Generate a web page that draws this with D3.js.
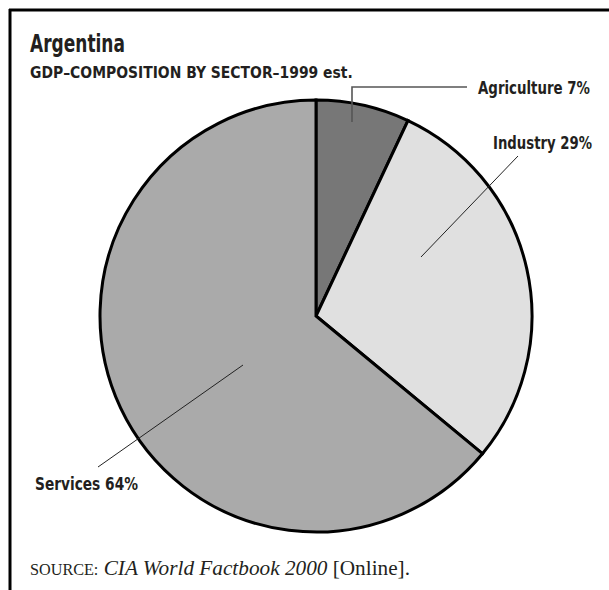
<!DOCTYPE html>
<html>
<head>
<meta charset="utf-8">
<script src="https://cdn.jsdelivr.net/npm/d3@7"></script>
<style>
  html, body { margin: 0; padding: 0; background: #fff; }
  svg { display: block; }
</style>
</head>
<body>
<svg id="chart" width="609" height="590"></svg>
<script>
// GDP composition by sector, Argentina, 1999 est.
const sectors = ["Agriculture", "Industry", "Services"];
const shares = [7, 29, 64];
const sliceColors = ["#777777", "#e0e0e0", "#aaaaaa"];

const title = "Argentina";
const subtitle = "GDP\u2013COMPOSITION BY SECTOR\u20131999 est.";

const svg = d3.select("#chart");
const ink = "#231f20";
const sansBold = "'DejaVu Sans Condensed', 'DejaVu Sans', Arial, sans-serif";
const serif = "'Liberation Serif', 'Times New Roman', serif";

// draw a text squeezed horizontally to a set width, anchored at (x, y)
function squeezed(x, y, width, anchor, size, family, str) {
  const t = svg.append("text")
    .attr("font-family", family).attr("font-weight", "bold").attr("font-size", size)
    .attr("font-stretch", "condensed").attr("fill", ink).text(str);
  const natural = t.node().getComputedTextLength();
  const sx = width / natural;
  const left = anchor === "end" ? x - width : x;
  t.attr("transform", `translate(${left},${y}) scale(${sx},1)`);
  return t;
}

// frame: top and left rules
svg.append("line").attr("x1", 9).attr("x2", 609).attr("y1", 10).attr("y2", 10)
  .attr("stroke", "#000").attr("stroke-width", 3);
svg.append("line").attr("x1", 10).attr("x2", 10).attr("y1", 9).attr("y2", 590)
  .attr("stroke", "#000").attr("stroke-width", 3);

// headings
squeezed(30, 52, 95, "start", 24, sansBold, title);
squeezed(30, 78, 323, "start", 16.5, sansBold, subtitle);

// pie
const cx = 316, cy = 316, radius = 216;
const pie = d3.pie().sort(null).value(d => d.value);
const arcs = pie(sectors.map((s, i) => ({ name: s, value: shares[i], color: sliceColors[i] })));
const arc = d3.arc().innerRadius(0).outerRadius(radius);

const g = svg.append("g").attr("transform", `translate(${cx},${cy})`);
g.selectAll("path").data(arcs).join("path")
  .attr("d", arc)
  .attr("fill", d => d.data.color)
  .attr("stroke", "#000")
  .attr("stroke-width", 3)
  .attr("stroke-linejoin", "miter");

// labels with leader lines
const labelLayout = [
  { x: 590, y: 94, anchor: "end", w: 112, leader: [[467, 87], [352, 87], [352, 122]], stroke: "#555", width: 1.6 },
  { x: 592, y: 149, anchor: "end", w: 99, leader: [[518, 156], [421, 257]], stroke: "#222", width: 1 },
  { x: 35, y: 490, anchor: "start", w: 103, leader: [[98, 467], [243, 365]], stroke: "#222", width: 1 }
];

const line = d3.line();
arcs.forEach((d, i) => {
  const L = labelLayout[i];
  svg.append("path").attr("d", line(L.leader))
    .attr("fill", "none").attr("stroke", L.stroke).attr("stroke-width", L.width);
  squeezed(L.x, L.y, L.w, L.anchor, 18, sansBold, `${d.data.name} ${d.data.value}%`);
});

// source note
const src = svg.append("text").attr("x", 30).attr("y", 575)
  .attr("font-family", serif).attr("font-size", 21).attr("fill", ink);
src.append("tspan").attr("font-size", 16).text("SOURCE:");
src.append("tspan").text(" ");
src.append("tspan").attr("font-style", "italic").text("CIA World Factbook 2000");
src.append("tspan").text(" [Online].");
src.attr("textLength", 380).attr("lengthAdjust", "spacingAndGlyphs");
</script>
</body>
</html>
